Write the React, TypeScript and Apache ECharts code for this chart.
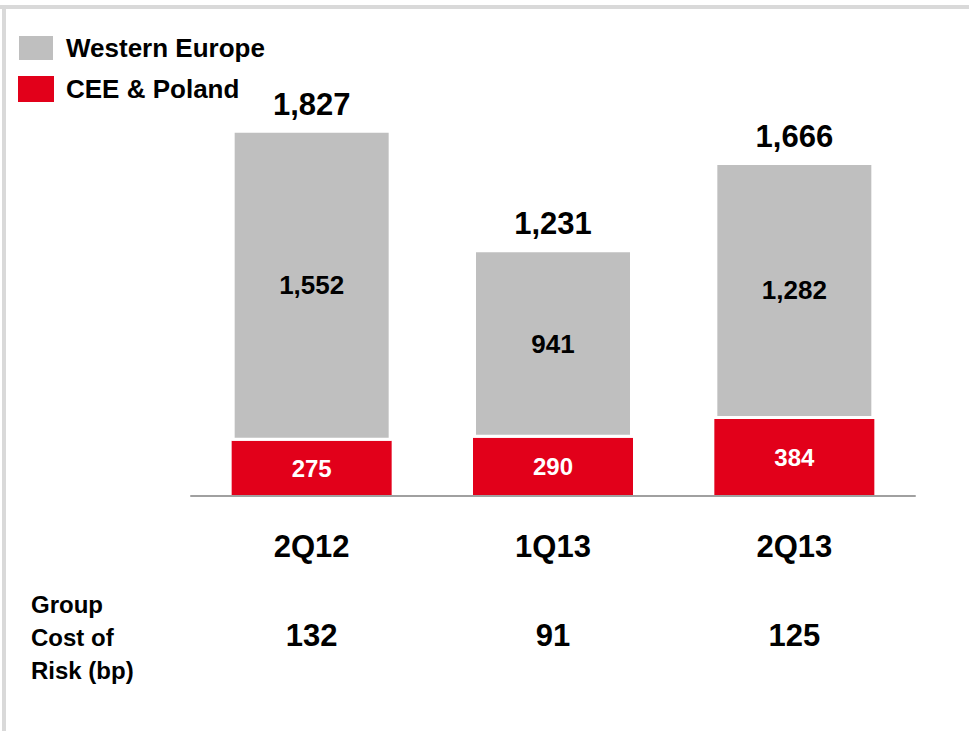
import React, { useEffect, useRef } from "react";
import * as echarts from "echarts";

const categories = ["2Q12", "1Q13", "2Q13"];
const ceePoland = [275, 290, 384];
const westernEurope = [1552, 941, 1282];
const totals = [1827, 1231, 1666];
const costOfRisk = ["132", "91", "125"];
const costOfRiskTitle = ["Group", "Cost of", "Risk (bp)"];

const FONT = "'Liberation Sans', Arial, sans-serif";
const fmt = (v: number) => v.toLocaleString("en-US");

export default function App() {
  const ref = useRef<HTMLDivElement>(null);
  useEffect(() => {
    if (!ref.current) return;
    const chart = echarts.init(ref.current, null, { renderer: "svg" });
    chart.setOption({
      animation: false,
      backgroundColor: "#ffffff",
      textStyle: { fontFamily: FONT },
      legend: {
        orient: "vertical",
        left: 12,
        top: 29,
        itemWidth: 36,
        itemHeight: 26,
        itemGap: 14,
        icon: "rect",
        data: ["Western Europe", "CEE & Poland"],
        textStyle: { fontSize: 26, fontWeight: "bold", color: "#000", fontFamily: FONT, padding: [0, 0, 0, 7] },
        selectedMode: false,
      },
      grid: { left: 191, right: 54, top: 95, bottom: 235 },
      xAxis: [
        {
          type: "category",
          data: categories,
          z: 5,
          axisLine: { show: true, lineStyle: { color: "#a0a0a0", width: 2 } },
          axisTick: { show: false },
          axisLabel: { fontSize: 31, fontWeight: "bold", color: "#000", margin: 35, fontFamily: FONT },
        },
        {
          type: "category",
          position: "bottom",
          offset: 89,
          data: costOfRisk,
          axisLine: { show: false },
          axisTick: { show: false },
          axisLabel: { fontSize: 31, fontWeight: "bold", color: "#000", margin: 35, fontFamily: FONT },
        },
      ],
      yAxis: { type: "value", min: 0, max: 2000, show: false, splitLine: { show: false } },
      series: [
        {
          name: "CEE & Poland",
          type: "bar",
          stack: "total",
          barWidth: 160,
          barGap: "-100%",
          data: ceePoland,
          itemStyle: { color: "#e2001a" },
          label: {
            show: true,
            position: "inside",
            color: "#fff",
            fontSize: 24,
            fontWeight: "bold",
            fontFamily: FONT,
            formatter: (p: any) => fmt(p.value),
          },
        },
        {
          name: "Western Europe",
          type: "bar",
          stack: "total",
          barWidth: 160,
          barGap: "-100%",
          data: westernEurope,
          itemStyle: { color: "#bfbfbf", borderColor: "#ffffff", borderWidth: 3 },
          label: {
            show: true,
            position: "inside",
            color: "#000",
            fontSize: 26,
            fontWeight: "bold",
            fontFamily: FONT,
            formatter: (p: any) => fmt(p.value),
          },
        },
        {
          name: "Total",
          type: "bar",
          barWidth: 160,
          barGap: "-100%",
          data: totals,
          silent: true,
          z: 1,
          itemStyle: { color: "rgba(0,0,0,0)" },
          label: {
            show: true,
            position: "top",
            distance: 10,
            color: "#000",
            fontSize: 31,
            fontWeight: "bold",
            fontFamily: FONT,
            formatter: (p: any) => fmt(p.value),
          },
        },
      ],
      graphic: [
        { type: "rect", shape: { x: 0, y: 5, width: 969, height: 4 }, style: { fill: "#d9d9d9" } },
        { type: "rect", shape: { x: 2, y: 5, width: 4, height: 726 }, style: { fill: "#d9d9d9" } },
        ...costOfRiskTitle.map((t, i) => ({
          type: "text",
          left: 31,
          top: 592 + i * 33,
          style: { text: t, fontSize: 24, fontWeight: "bold", fill: "#000", fontFamily: FONT },
        })),
      ],
    });
    return () => chart.dispose();
  }, []);
  return <div ref={ref} style={{ position: "fixed", left: 0, top: 0, width: 969, height: 731 }} />;
}
